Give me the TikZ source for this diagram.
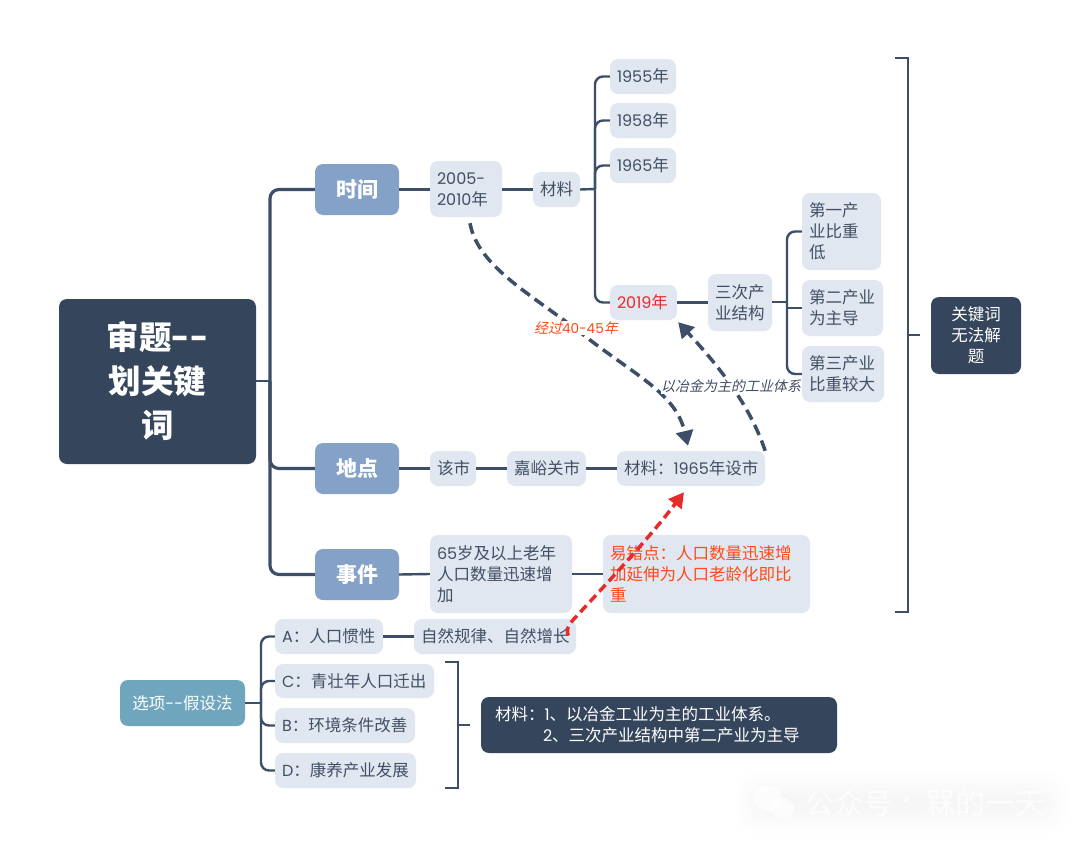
\documentclass[tikz,border=0pt]{standalone}
\usepackage{fontspec}
\setmainfont{Noto Sans CJK SC}
\newfontfamily\latf[Scale=0.97]{Poppins}
\newfontfamily\slantf[FakeSlant=0.22]{Noto Sans CJK SC}
\usetikzlibrary{arrows.meta,calc}
\definecolor{dark}{HTML}{35465C}
\definecolor{linec}{HTML}{3C4E68}
\definecolor{pale}{HTML}{E1E7F0}
\definecolor{txt}{HTML}{414F65}
\definecolor{head}{HTML}{84A1C8}
\definecolor{teal}{HTML}{6FA6BD}
\definecolor{redc}{HTML}{E62B2B}
\definecolor{orangec}{HTML}{FF4A16}
\newcommand{\dashes}{{\latf -}{\latf -}}
\newcommand{\bx}[7]{%
  \pgfmathsetmacro{\bxw}{#5-#3-14}\pgfmathsetmacro{\bxh}{#6-#4}%
  \pgfmathsetmacro{\bxx}{(#3+#5)/2}\pgfmathsetmacro{\bxy}{(#4+#6)/2}%
  \node[basebox,#1,text width=\bxw pt,minimum height=\bxh pt] (#2) at (\bxx,\bxy) {\lineskiplimit=-100pt\relax\rule{0pt}{1em}#7\rule[-0.25em]{0pt}{0pt}};}
\tikzset{
  basebox/.style={rounded corners=8pt,inner xsep=7pt,inner ysep=0pt,align=left,anchor=center},
  palebox/.style={fill=pale,text=txt,font=\fontsize{16.5}{21}\selectfont},
  headbox/.style={fill=head,text=white,align=center,font=\fontsize{21}{26}\selectfont\bfseries},
  rootbox/.style={fill=dark,text=white,align=center,font=\fontsize{32.5}{44}\selectfont\bfseries},
  darkbox/.style={fill=dark,text=white,font=\fontsize{16.5}{21}\selectfont},
  tealbox/.style={fill=teal,text=white,align=center,font=\fontsize{16.5}{21}\selectfont},
  conn/.style={draw=linec,line width=2.4pt},
  tree/.style={draw=linec,line width=3.2pt,rounded corners=9pt},
  subtree/.style={draw=linec,line width=2.4pt,rounded corners=8pt},
  bracket/.style={draw=linec,line width=2pt},
  dashdark/.style={draw=linec,line width=3.5pt,dash pattern=on 11pt off 6pt,-{Triangle[length=15pt,width=17pt]}},
  dashred/.style={draw=redc,line width=3.5pt,dash pattern=on 9pt off 5pt,-{Triangle[length=15pt,width=16pt]}},
  note/.style={fill=white,inner xsep=0pt,inner ysep=1pt,font=\fontsize{14}{16}\selectfont\slantf},
}
\begin{document}
\begin{tikzpicture}[x=1pt,y=-1pt]
\useasboundingbox (0,0) rectangle (1080,846);
\fill[white] (0,0) rectangle (1080,846);

% faint watermark
\foreach \o in {0,3,...,24}{
  \fill[black,opacity=0.0045,rounded corners=20pt] (736+\o,772+\o) rectangle (1068-\o,834-\o);
}
\fill[white,opacity=0.7] (768,798) ellipse (14pt and 13pt);
\fill[white,opacity=0.7] (782,808) ellipse (12pt and 10pt);
\node[text=white,opacity=0.75,font=\fontsize{29}{30}\selectfont,anchor=west,inner sep=0pt] (wma) at (805,803) {公众号};
\node[text=white,opacity=0.75,font=\fontsize{29}{30}\selectfont,inner sep=0pt] (wmb) at (907,803) {·};
\node[text=white,opacity=0.75,font=\fontsize{30}{30}\selectfont,anchor=west,inner sep=0pt] (wmc) at (925,803) {槑的一天};

% boxes
\bx{rootbox}{root}{59}{299}{256}{464}{审题\dashes\\划关键\\词}
\bx{headbox}{time}{315}{164}{399}{215}{时间}
\bx{headbox}{place}{315}{443}{399}{494}{地点}
\bx{headbox}{event}{315}{549}{399}{600}{事件}
\bx{palebox}{span}{430}{161}{502}{217}{{\latf 2005-}\\{\latf 2010}年}
\bx{palebox}{mat}{533}{172}{580}{207}{材料}
\bx{palebox}{ya}{610}{59}{676}{94}{{\latf 1955}年}
\bx{palebox}{yb}{610}{103}{676}{138}{{\latf 1958}年}
\bx{palebox}{yc}{610}{148}{676}{183}{{\latf 1965}年}
\bx{palebox,text=redc}{yd}{610}{285}{677}{320}{{\latf 2019}年}
\bx{palebox}{three}{708}{274}{772}{331}{三次产\\业结构}
\bx{palebox}{first}{802}{193}{881}{270}{第一产\\业比重\\低}
\bx{palebox}{second}{802}{280}{883}{336}{第二产业\\为主导}
\bx{palebox}{third}{802}{346}{884}{402}{第三产业\\比重较大}
\bx{darkbox,align=center}{key}{931}{297}{1021}{374}{关键词\\无法解\\题}
\bx{palebox}{city}{430}{451}{476}{486}{该市}
\bx{palebox}{jyg}{507}{451}{586}{486}{嘉峪关市}
\bx{palebox}{found}{617}{451}{765}{486}{材料：{\latf 1965}年设市}
\bx{palebox}{old}{430}{535}{572}{613}{{\latf 65}岁及以上老年\\人口数量迅速增\\加}
\bx{palebox,text=orangec}{err}{603}{535}{810}{613}{易错点：人口数量迅速增\\加延伸为人口老龄化即比\\重}
\bx{palebox}{nat}{414}{619}{576}{654}{自然规律、自然增长}
\bx{palebox}{optA}{275}{619}{383}{654}{{\latf A}：人口惯性}
\bx{palebox}{optC}{275}{664}{434}{698}{{\latf C}：青壮年人口迁出}
\bx{palebox}{optB}{275}{708}{415}{743}{{\latf B}：环境条件改善}
\bx{palebox}{optD}{275}{753}{416}{788}{{\latf D}：康养产业发展}
\bx{tealbox}{opts}{120}{680}{245}{726}{选项\dashes 假设法}
\bx{darkbox}{matbox}{481}{697}{837}{753}{\hspace*{7pt}材料：{\latf 1}、以冶金工业为主的工业体系。\\\hspace*{55pt}{\latf 2}、三次产业结构中第二产业为主导}

% junction coordinates
\coordinate (rj) at (270,381);
\coordinate (mj) at (595,189);
\coordinate (tj) at (787,302);
\coordinate (oj) at (261,703);

% main tree
\draw[tree] (time.west) -| (rj) |- (event.west);
\draw[tree] (rj) |- (place.west);
\draw[conn] (root.east |- rj) -- (rj);
% simple links
\draw[conn] (time.east) -- (span.west |- time.east);
\draw[conn] (span.east |- mat.west) -- (mat.west);
\draw[conn] (mat.east) -- (mj);
\draw[conn] (yd.east) -- (three.west |- yd.east);
\draw[conn] (place.east) -- (city.west);
\draw[conn] (city.east) -- (jyg.west);
\draw[conn] (jyg.east) -- (found.west);
\draw[conn] (event.east) -- (old.west);
\draw[conn] (old.east) -- (err.west);
\draw[conn] (optA.east) -- (nat.west);
% year tree
\draw[subtree] (ya.west) -| (mj) |- (yd.west);
\draw[subtree] (yb.west) -| (mj);
\draw[subtree] (yc.west) -| (mj);
% industry tree
\draw[conn] (three.east |- tj) -- (tj);
\draw[subtree] (first.west) -| (tj) |- (third.west);
\draw[conn] (tj |- second.west) -- (second.west);
% options tree
\draw[conn] (opts.east) -- (oj);
\draw[subtree] (optA.west) -| (oj) |- (optD.west);
\draw[subtree] (optC.west) -| (oj);
\draw[subtree] (optB.west) -| (oj);

% brackets
\coordinate (ba) at (895,58);
\coordinate (bb) at (908,58);
\coordinate (bc) at (908,612);
\coordinate (bd) at (895,612);
\coordinate (bm) at (908,335);
\coordinate (bt) at (920,335);
\draw[bracket] (ba) -- (bb) -- (bc) -- (bd);
\draw[bracket] (bm) -- (bt);
\coordinate (ca) at (445,662);
\coordinate (cb) at (458,662);
\coordinate (cc) at (458,788);
\coordinate (cd) at (445,788);
\coordinate (cm) at (458,725);
\coordinate (ct) at (470,725);
\draw[bracket] (ca) -- (cb) -- (cc) -- (cd);
\draw[bracket] (cm) -- (ct);

% dashed relations
\coordinate (g1) at (590,340);
\draw[dashdark] ([shift={(4,6)}]span.south) .. controls (478,268) and (535,296) .. (g1) .. controls (640,378) and (676,395) .. ([shift={(-3,-5)}]found.north);
\draw[dashdark] (found.north east) .. controls (752,412) and (728,376) .. ([shift={(1,2)}]yd.south east);
\node[note,text=orangec] (lab1) at (576,328) {经过{\latf 40-45}年};
\node[note,text=txt] (lab2) at (731,386) {以冶金为主的工业体系};
\draw[dashred] (nat.east) ++(-8,-1) .. controls (566,630) and (568,626) .. (573,620) .. controls (610,580) and (650,537) .. ([shift={(-7,6)}]found.south);
\end{tikzpicture}
\end{document}
